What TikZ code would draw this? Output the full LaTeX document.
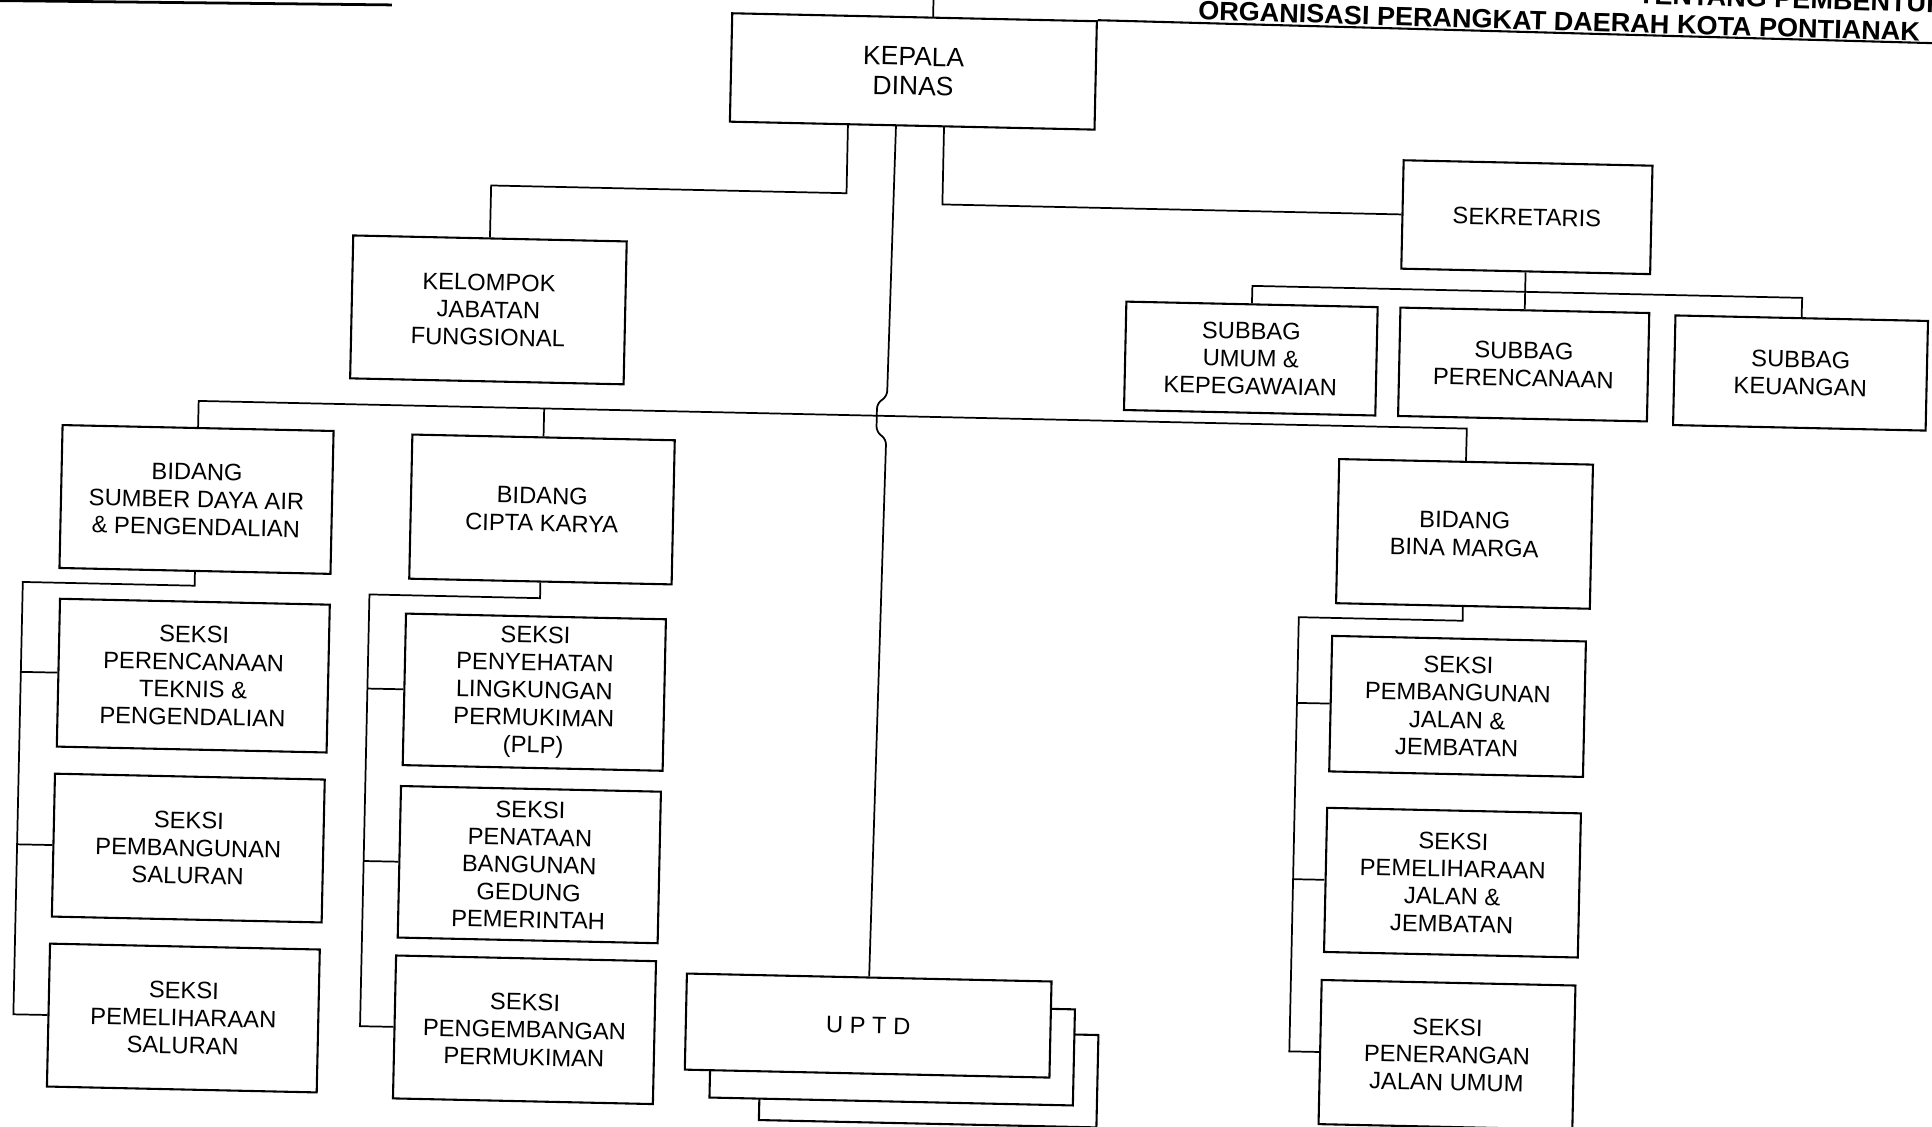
\documentclass[tikz,border=0pt]{standalone}
\usepackage{fontspec}
\setmainfont{Liberation Sans}
\usepackage{graphicx}
\newcommand\orgboxfont{\fontsize{13.7pt}{15.9pt}\selectfont}
\newcommand\orgheadfont{\fontsize{15.3pt}{17.1pt}\selectfont}
\begin{document}
\begin{tikzpicture}[x=0.25mm, y=-0.25mm,
  box/.style={draw, line width=1.2pt, fill=white, inner sep=0pt, align=center, font=\orgboxfont},
  sz/.style 2 args={minimum width=#1*0.25mm, minimum height=#2*0.25mm},
  link/.style={line width=1pt}]
\useasboundingbox (0,0) rectangle (1568,914);
\fill[white] (0,0) rectangle (1568,914);
\clip (0,0) rectangle (1568,914);

\begin{scope}[rotate around={-1.25:(784,457)}, transform shape]
  % head of office
  \node[box, sz={296}{88}, font=\orgheadfont] (kd) at (732.6,59) {KEPALA\\DINAS};
  \node[box, sz={222}{116}] (kfj) at (392,260) {KELOMPOK\\JABATAN\\FUNGSIONAL};

  % secretariat
  \node[box, sz={202}{88}] (sek) at (1233,166.4) {SEKRETARIS};
  \node[box, sz={204}{88}] (sb1) at (1011.5,286) {SUBBAG\\UMUM \&\\KEPEGAWAIAN};
  \node[box, sz={202}{88}] (sb2) at (1233,286) {SUBBAG\\PERENCANAAN};
  \node[box, sz={205}{89}] (sb3) at (1457.8,288) {SUBBAG\\KEUANGAN};

  % divisions
  \node[box, sz={220}{116}] (sda) at (158.5,419) {BIDANG\\SUMBER DAYA AIR\\\& PENGENDALIAN};
  \node[box, sz={213}{117}] (ck) at (439,421) {BIDANG\\CIPTA KARYA};
  \node[box, sz={206}{117}] (bm) at (1188,424.5) {BIDANG\\BINA MARGA};

  % sections, water resources
  \node[box, sz={219}{120}] (s11) at (159,562) {SEKSI\\PERENCANAAN\\TEKNIS \&\\PENGENDALIAN};
  \node[box, sz={219}{116}] (s12) at (158,702) {SEKSI\\PEMBANGUNAN\\SALURAN};
  \node[box, sz={219}{116}] (s13) at (157,840) {SEKSI\\PEMELIHARAAN\\SALURAN};

  % sections, housing and buildings
  \node[box, sz={211}{123}] (s21) at (436,569.4) {SEKSI\\PENYEHATAN\\LINGKUNGAN\\PERMUKIMAN\\(PLP)};
  \node[box, sz={211}{123}] (s22) at (435,709.4) {SEKSI\\PENATAAN\\BANGUNAN\\GEDUNG\\PEMERINTAH};
  \node[box, sz={211}{116}] (s23) at (434,843.5) {SEKSI\\PENGEMBANGAN\\PERMUKIMAN};

  % sections, roads
  \node[box, sz={206}{110}] (s31) at (1185.4,564.6) {SEKSI\\PEMBANGUNAN\\JALAN \&\\JEMBATAN};
  \node[box, sz={206}{117}] (s32) at (1184.4,707.7) {SEKSI\\PEMELIHARAAN\\JALAN \&\\JEMBATAN};
  \node[box, sz={206}{117}] (s33) at (1183,847.5) {SEKSI\\PENERANGAN\\JALAN UMUM};

  % technical units, stacked
  \node[box, sz={274}{75}] (uptdC) at (762.8,875.1) {};
  \node[box, sz={295}{78}] (uptdB) at (732.8,856.2) {};
  \node[box, sz={296}{78}] (uptd) at (712.8,834) {U P T D};

  % exit points on the head box
  \coordinate (kdT) at (747.7,15);
  \coordinate (kdL) at (680.5,103);
  \coordinate (kdM) at (719.5,103);
  \coordinate (kdR) at (758.5,103);

  \draw[link] (kdT) -- (747.7,-40);
  \draw[link] (kdL) -- (680.5,159) -- (392,159) -- (kfj.north);
  \draw[link] (kdR) -- (758.5,166.4) -- (sek.west);
  \draw[link, rounded corners=3] (kdM) -- (717,323) -- (709,329) -- (709,352) -- (717,358) -- (uptd.north);

  % secretariat to sub-sections
  \draw[link] (sek.south) -- (sb2.north);
  \draw[link] (sb1.north) -- (1011.5,227) -- (1457.8,227) -- (sb3.north);

  % division bus
  \draw[link] (sda.north) -- (158.5,339) -- (1188,339) -- (bm.north);
  \draw[link] (ck.north) -- (439,339);

  % water resources sections
  \draw[link] (sda.south) -- (158.5,489) -- (19,489) -- (19,840) -- (s13.west);
  \draw[link] (19,562) -- (s11.west);
  \draw[link] (19,702) -- (s12.west);

  % housing sections
  \draw[link] (ck.south) -- (439,493) -- (300.5,493) -- (300.5,843.5) -- (s23.west);
  \draw[link] (300.5,569.4) -- (s21.west);
  \draw[link] (300.5,709.4) -- (s22.west);

  % road sections
  \draw[link] (bm.south) -- (1188,495) -- (1055,495) -- (1055,847.5) -- (s33.west);
  \draw[link] (1055,564.6) -- (s31.west);
  \draw[link] (1055,707.7) -- (s32.west);
\end{scope}

% page heading
\draw[line width=1.6pt] (0,0.5) -- (318,4);
\draw[line width=1.2pt] (kd.north east) -- (1568,35);
\node[anchor=base west, inner sep=0pt, rotate=-1.7] (hdr) at (972,16)
  {\resizebox{146.5mm}{3.75mm}{\bfseries ORGANISASI PERANGKAT DAERAH KOTA PONTIANAK}};
\node[anchor=base west, inner sep=0pt, rotate=-1.7] (hdrtop) at (1329,3)
  {\resizebox{70.4mm}{3.75mm}{\bfseries TENTANG PEMBENTUKAN}};
\end{tikzpicture}
\end{document}
